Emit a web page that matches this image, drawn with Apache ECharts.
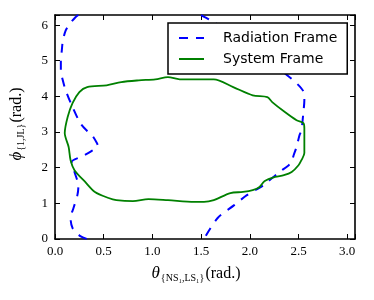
<!DOCTYPE html>
<html><head><meta charset="utf-8">
<script src="https://cdn.jsdelivr.net/npm/echarts@6/dist/echarts.min.js"></script>
<style>html,body{margin:0;padding:0;background:#fff}#c{width:374px;height:300px}</style>
</head><body><div id="c"></div>
<script>
// System Frame (closed loop)
const sysX = [1.40,1.28,1.16,1.03,0.86,0.68,0.53,0.33,0.25,0.18,0.13,0.10,0.14,0.16,0.20,0.31,0.41,0.55,0.63,0.80,0.96,1.16,1.43,1.53,1.63,1.80,1.93,2.03,2.10,2.15,2.26,2.35,2.43,2.50,2.53,2.56,2.56,2.55,2.48,2.36,2.23,2.18,2.03,1.83,1.63,1.40];
const sysY = [4.48,4.48,4.54,4.48,4.45,4.40,4.31,4.26,4.12,3.81,3.42,2.97,2.58,2.21,1.93,1.60,1.32,1.15,1.09,1.06,1.12,1.09,1.04,1.04,1.09,1.29,1.32,1.37,1.46,1.62,1.74,1.79,1.88,2.07,2.21,2.41,3.11,3.25,3.33,3.56,3.84,3.98,4.03,4.26,4.48,4.48];
// Radiation Frame, left branch (wraps in phi)
const radAX = [0.24,0.21,0.15,0.11,0.08,0.07,0.06,0.06,0.08,0.11,0.18,0.26,0.33,0.38,0.43,0.44,0.37,0.28,0.17,0.20,0.24,0.23,0.19,0.16,0.18,0.26,0.33];
const radAY = [6.283,6.22,6.03,5.85,5.55,5.29,5.00,4.73,4.45,4.17,3.70,3.25,3.03,2.91,2.69,2.61,2.46,2.32,2.16,1.88,1.48,1.23,0.87,0.59,0.31,0.08,0.00];
// Radiation Frame, right branch
const radBX = [1.50,1.58,1.80,2.05,2.25,2.38,2.48,2.55,2.56,2.55,2.53,2.51,2.48,2.45,2.43,2.40,2.29,2.14,1.97,1.84,1.67,1.53];
const radBY = [6.283,6.16,5.80,5.35,4.90,4.60,4.37,4.14,3.89,3.56,3.05,2.91,2.58,2.35,2.16,2.07,1.85,1.51,1.23,0.95,0.59,0.00];
const xTickStep = 0.5, yTickStep = 1;

const zip = (a, b) => a.map((v, i) => [v, b[i]]);
const blue = '#0000ff', green = '#008000';
const serif = 'Liberation Serif';
const isMult = (v, s) => Math.abs(v / s - Math.round(v / s)) < 1e-6;

const axCommon = {
  axisLine: { show: true, onZero: false, lineStyle: { color: '#000', width: 1.6 } },
  axisTick: { show: true, inside: true, length: 5, lineStyle: { color: '#000', width: 1 } },
  splitLine: { show: false }
};
const nameRich = {
  b: { fontFamily: serif, fontSize: 17, fontStyle: 'italic', padding: [0, 1, 9, 0] },
  c: { fontFamily: serif, fontSize: 16, padding: [0, 0, 9, 1] }
};
const chart = echarts.init(document.getElementById('c'), null, { renderer: 'canvas' });
chart.setOption({
  animation: false,
  backgroundColor: '#fff',
  grid: { left: 47, right: 19, top: 15, bottom: 61 },
  legend: {
    orient: 'vertical', left: 168, top: 23, width: 179,
    padding: [8, 10, 8, 10], itemGap: 7, itemWidth: 25, itemHeight: 12,
    backgroundColor: '#fff', borderColor: '#000', borderWidth: 1.5, borderRadius: 0,
    itemStyle: { color: 'transparent', borderWidth: 0, opacity: 0 },
    textStyle: { fontFamily: 'DejaVu Sans', fontSize: 14, color: '#000', padding: [0, 0, 0, 14] },
    data: ['Radiation Frame', 'System Frame'], z: 10
  },
  xAxis: [
    Object.assign({}, axCommon, {
      type: 'value', min: 0, max: 3.08, interval: xTickStep, position: 'bottom',
      axisLabel: { margin: 6, fontFamily: serif, fontSize: 13, color: '#000',
        formatter: v => isMult(v, xTickStep) ? v.toFixed(1) : '' },
      name: '{b|θ}{NS₁,LS₁}{c|(rad.)}', nameLocation: 'middle', nameGap: 26,
      nameTextStyle: { fontFamily: serif, fontSize: 10, color: '#000', padding: [0, 18, 0, 0], rich: nameRich }
    }),
    Object.assign({}, axCommon, {
      type: 'value', min: 0, max: 3.08, interval: xTickStep, position: 'top',
      axisLabel: { show: false }
    })
  ],
  yAxis: [
    Object.assign({}, axCommon, {
      type: 'value', min: 0, max: 2 * Math.PI, interval: yTickStep, position: 'left',
      axisLabel: { margin: 7, fontFamily: serif, fontSize: 13, color: '#000',
        formatter: v => isMult(v, yTickStep) ? String(Math.round(v)) : '' },
      name: '{b|ϕ}{1,JL}{c|(rad.)}', nameLocation: 'middle', nameGap: 21, nameRotate: 90,
      nameTextStyle: { fontFamily: serif, fontSize: 10, color: '#000', padding: [0, 0, 0, 6], rich: nameRich }
    }),
    Object.assign({}, axCommon, {
      type: 'value', min: 0, max: 2 * Math.PI, interval: yTickStep, position: 'right',
      axisLabel: { show: false }
    })
  ],
  series: [
    { name: 'Radiation Frame', type: 'line', xAxisIndex: 0, yAxisIndex: 0, data: zip(radAX, radAY),
      symbol: 'none', smooth: 0.3, lineStyle: { color: blue, width: 2, type: [9, 8] }, itemStyle: { color: blue }, z: 2 },
    { name: 'Radiation Frame', type: 'line', xAxisIndex: 0, yAxisIndex: 0, data: zip(radBX, radBY),
      symbol: 'none', smooth: 0.3, lineStyle: { color: blue, width: 2, type: [9, 8] }, itemStyle: { color: blue }, z: 2 },
    { name: 'System Frame', type: 'line', xAxisIndex: 0, yAxisIndex: 0, data: zip(sysX, sysY),
      symbol: 'none', smooth: 0.3, lineStyle: { color: green, width: 1.8 }, itemStyle: { color: green }, z: 3 }
  ]
});
</script></body></html>
